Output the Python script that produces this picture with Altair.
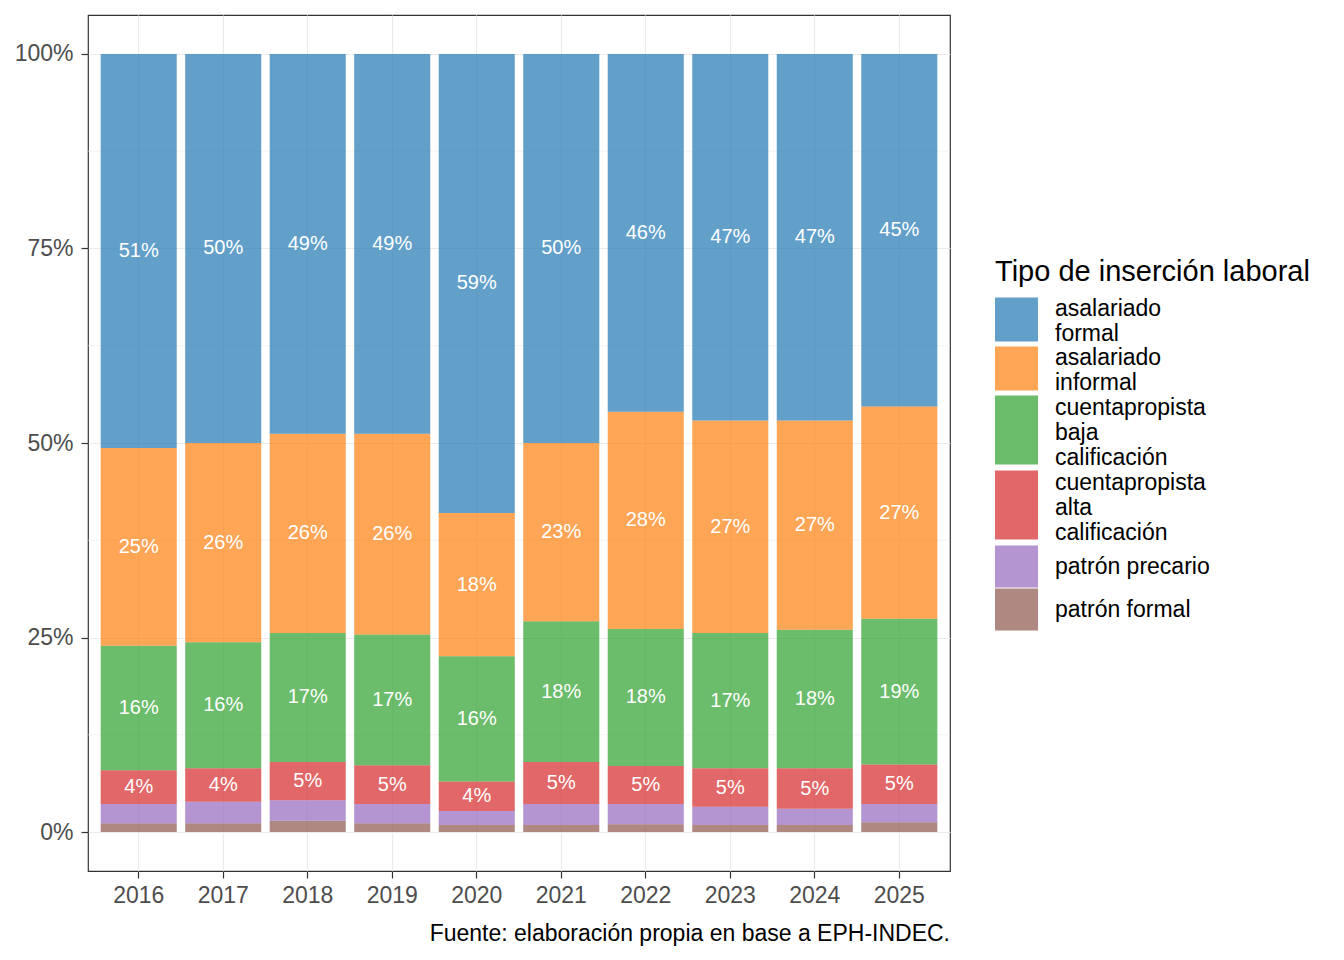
import altair as alt
import pandas as pd

years = [2016, 2017, 2018, 2019, 2020, 2021, 2022, 2023, 2024, 2025]
categories = [
    "asalariado formal",
    "asalariado informal",
    "cuentapropista baja calificación",
    "cuentapropista alta calificación",
    "patrón precario",
    "patrón formal",
]
colors = ["#1f77b4", "#ff7f0e", "#2ca02c", "#d62728", "#9467bd", "#8c564b"]
# legend key shapes (taller keys for labels that wrap onto more lines)
key_two = "M-1,-0.96H2.74V2.87H-1Z"
key_three = "M-1,-1.04H2.74V4.96H-1Z"
key_one = "M-1,-1.83H2.74V1.83H-1Z"
key_shapes = [key_two, key_two, key_three, key_three, key_one, key_one]

asalariado_formal = [50.65, 50.0, 48.8, 48.8, 59.0, 50.0, 46.0, 47.1, 47.1, 45.3]
asalariado_informal = [25.4, 25.6, 25.6, 25.8, 18.4, 22.9, 27.9, 27.3, 26.9, 27.3]
cp_baja = [16.0, 16.2, 16.6, 16.8, 16.1, 18.1, 17.6, 17.4, 17.8, 18.7]
cp_alta = [4.35, 4.3, 4.9, 5.0, 3.8, 5.4, 4.9, 4.95, 5.2, 5.1]
patron_precario = [2.45, 2.75, 2.65, 2.45, 1.8, 2.7, 2.6, 2.35, 2.1, 2.32]
patron_formal = [1.15, 1.15, 1.45, 1.15, 0.9, 0.9, 1.0, 0.9, 0.9, 1.28]

y_ticks = [0, 0.25, 0.5, 0.75, 1.0]
y_minor = [0.125, 0.375, 0.625, 0.875]

series = {
    "asalariado formal": asalariado_formal,
    "asalariado informal": asalariado_informal,
    "cuentapropista baja calificación": cp_baja,
    "cuentapropista alta calificación": cp_alta,
    "patrón precario": patron_precario,
    "patrón formal": patron_formal,
}

rows = []
for i, yr in enumerate(years):
    total = sum(series[c][i] for c in categories)
    lo = 0.0
    for c in reversed(categories):
        v = series[c][i] / total
        rows.append(dict(year=str(yr), cat=c, pct=v, lo=lo, hi=lo + v, mid=lo + v / 2))
        lo += v
df = pd.DataFrame(rows)
minor_df = pd.DataFrame({"v": y_minor})

yscale = alt.Scale(domain=[-0.05, 1.05], nice=False, zero=False)
xscale = alt.Scale(paddingInner=0.1, paddingOuter=0.15)

x_enc = alt.X(
    "year:N",
    title=None,
    scale=xscale,
    axis=alt.Axis(
        labelFontSize=23, labelColor="#4d4d4d", tickColor="#333333", tickSize=7,
        tickWidth=1.2, domain=False, grid=True, gridColor="#ebebeb", gridWidth=1.2,
        labelAngle=0, labelPadding=6,
    ),
)

minor = alt.Chart(minor_df).mark_rule(color="#ebebeb", strokeWidth=0.6).encode(
    y=alt.Y("v:Q", scale=yscale)
)

legend_expr = (
    "datum.label == 'patrón precario' || datum.label == 'patrón formal' "
    "? datum.label : split(datum.label, ' ')"
)


def make_legend():
    return alt.Legend(
        title="Tipo de inserción laboral",
        orient="none",
        legendX=907,
        legendY=243,
        titleFontSize=29,
        titleFontWeight="normal",
        titleColor="black",
        titlePadding=10,
        titleLimit=600,
        labelFontSize=23,
        labelColor="black",
        labelExpr=legend_expr,
        labelOffset=37,
        labelLimit=400,
        symbolSize=529,
        symbolOpacity=0.7,
        symbolStrokeWidth=0,
        rowPadding=0,
    )


color_enc = alt.Color(
    "cat:N",
    scale=alt.Scale(domain=categories, range=colors),
    legend=make_legend(),
)
shape_enc = alt.Shape(
    "cat:N",
    scale=alt.Scale(domain=categories, range=key_shapes),
    legend=make_legend(),
)

bars = alt.Chart(df).mark_bar(opacity=0.7).encode(
    x=x_enc,
    y=alt.Y(
        "lo:Q",
        scale=yscale,
        title=None,
        axis=alt.Axis(
            values=y_ticks, format=".0%", labelFontSize=23, labelColor="#4d4d4d",
            tickColor="#333333", tickSize=7, tickWidth=1.2, domain=False, grid=True,
            gridColor="#ebebeb", gridWidth=1.2, labelPadding=8,
        ),
    ),
    y2="hi:Q",
    color=color_enc,
)

keys = alt.Chart(df).transform_filter("false").mark_point(filled=True, opacity=0.7).encode(
    x=alt.X("year:N", scale=xscale),
    y=alt.Y("mid:Q", scale=yscale),
    color=color_enc,
    shape=shape_enc,
)

labels = alt.Chart(df).transform_filter("datum.pct >= 0.03").mark_text(
    color="white", fontSize=20
).encode(
    x=alt.X("year:N", scale=xscale),
    y=alt.Y("mid:Q", scale=yscale),
    text=alt.Text("pct:Q", format=".0%"),
)

chart = (
    alt.layer(minor, bars, keys, labels)
    .properties(
        width=862,
        height=856,
        padding={"left": 6, "top": 7, "right": 5, "bottom": 5},
        title=alt.TitleParams(
            "Fuente: elaboración propia en base a EPH-INDEC.",
            orient="bottom",
            anchor="end",
            frame="group",
            fontSize=23,
            fontWeight="normal",
            color="black",
            offset=16,
        ),
    )
    .configure(font="Liberation Sans")
    .configure_view(stroke="#333333", strokeWidth=1.2)
)

chart.save("out.html", embed_options={"renderer": "svg", "actions": False})
